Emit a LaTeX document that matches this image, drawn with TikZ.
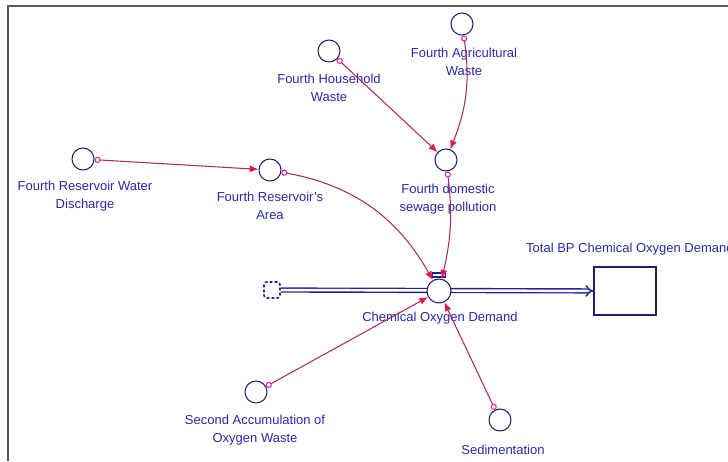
\documentclass[tikz,border=0pt]{standalone}
\usepackage{fontspec}
\setmainfont{Liberation Sans}
\usetikzlibrary{arrows.meta,positioning}
\definecolor{navyline}{RGB}{30,30,110}
\definecolor{pipeblue}{RGB}{35,35,150}
\definecolor{textblue}{RGB}{40,40,170}
\definecolor{linkcol}{RGB}{165,45,95}
\definecolor{tipred}{RGB}{225,20,75}
\definecolor{startmag}{RGB}{215,40,160}
\begin{document}
\begin{tikzpicture}[x=0.02cm, y=-0.02cm,
    aux/.style={draw=navyline, circle, line width=0.6pt, minimum size=0.44cm, inner sep=0pt, fill=white},
    lbl/.style={text=textblue, align=center, font=\fontsize{7.4}{10.2}\selectfont},
    link/.style={draw=linkcol, line width=0.6pt, {Circle[open, length=3.5pt, color=startmag]}-{Latex[length=5pt, width=4pt, color=tipred]}},
    pipe/.style={draw=pipeblue, line width=0.8pt, double, double distance=1.4pt, -{Implies}}]
				\clip (0,0) rectangle (728,461);

				% Frame
				\draw[gray!70!black, line width=0.6pt] (8,461) -- (8,6) -- (728,6);

				% Sources of domestic sewage
				\node[aux] (hh) at (329,51) {};
				\node[lbl] (hhLbl) at (329,88) {Fourth Household\\Waste};
				\node[aux] (ag) at (462,24) {};
				\node[lbl] (agLbl) at (464,62) {Fourth Agricultural\\Waste};
				\node[aux] (dom) at (446,160) {};
				\node[lbl] (domLbl) at (448,199) {Fourth domestic\\sewage pollution};

				% Reservoir
				\node[aux] (dis) at (83,159) {};
				\node[lbl] (disLbl) at (85,196) {Fourth Reservoir Water\\Discharge};
				\node[aux] (area) at (270,170) {};
				\node[lbl] (areaLbl) at (270,206) {Fourth Reservoir's\\Area};

				% Flow and stock
				\node[draw=pipeblue, dash pattern=on 1.6pt off 1.2pt, rounded corners=1.5pt, line width=0.9pt, minimum size=0.32cm, inner sep=0pt, fill=white] (cloud) at (272,290) {};
				\node[draw=navyline, line width=0.7pt, minimum width=1.24cm, minimum height=0.96cm] (stock) at (625,291) {};
				\node[lbl, anchor=west] (stockLbl) at (520,249) {Total BP Chemical Oxygen Demand};
				\draw[pipe] (cloud) -- (stock);
				\node[draw=pipeblue, line width=0.6pt, minimum width=0.26cm, minimum height=0.08cm, inner sep=0pt] (codTop) at (439,275) {};
				\node[aux, minimum size=0.48cm] (cod) at (439,291) {};
				\node[lbl] (codLbl) at (440,318) {Chemical Oxygen Demand};

				% Lower inputs
				\node[aux] (sec) at (256,392) {};
				\node[lbl] (secLbl) at (255,430) {Second Accumulation of\\Oxygen Waste};
				\node[aux] (sed) at (500,420) {};
				\node[lbl] (sedLbl) at (503,450) {Sedimentation};

				% Links
				\draw[link] (hh) -- (dom);
				\draw[link] (ag) to[bend left=15] (dom);
				\draw[link] (dis) -- (area);
				\draw[link] (area) to[bend left=25] (cod);
				\draw[link] (dom) to[bend left=10] (cod);
				\draw[link] (sec) -- (cod);
				\draw[link] (sed) -- (cod);
\end{tikzpicture}
\end{document}
